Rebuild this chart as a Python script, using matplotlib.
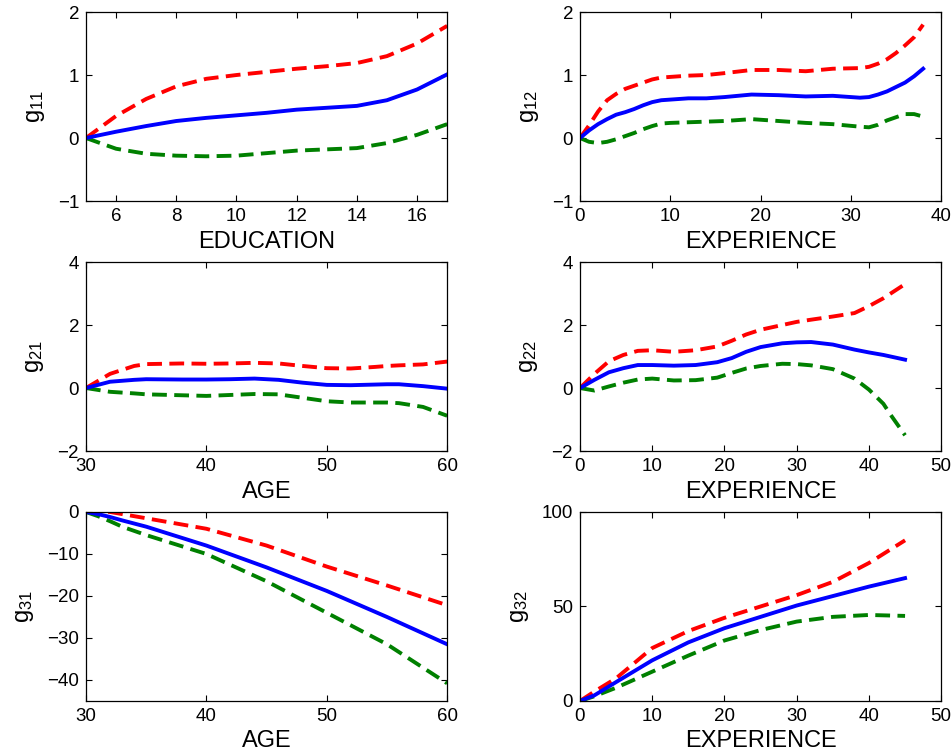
import numpy as np
import matplotlib
matplotlib.use("Agg")
import matplotlib.pyplot as plt

plt.rcParams['font.family'] = ['Liberation Sans', 'DejaVu Sans']
plt.rcParams['mathtext.fontset'] = 'custom'
plt.rcParams['mathtext.rm'] = 'Liberation Sans'
plt.rcParams['mathtext.default'] = 'regular'

# --- g11: EDUCATION ---
edu_x = [5, 6, 7, 8, 9, 10, 11, 12, 13, 14, 15, 16, 17]
g11_est = [0, 0.1, 0.19, 0.27, 0.32, 0.36, 0.40, 0.45, 0.48, 0.51, 0.60, 0.77, 1.01]
g11_up = [0, 0.35, 0.62, 0.82, 0.94, 1.0, 1.05, 1.1, 1.14, 1.19, 1.3, 1.5, 1.78]
g11_lo = [0, -0.17, -0.25, -0.28, -0.29, -0.28, -0.24, -0.2, -0.18, -0.16, -0.08, 0.05, 0.22]

# --- g12: EXPERIENCE ---
exp12_x = [0, 1, 2, 3, 4, 5, 6, 7, 8, 9, 10, 12, 14, 16, 19, 22, 25, 28, 31, 32, 33, 34, 35, 36, 37, 38]
g12_est = [0, 0.12, 0.22, 0.30, 0.37, 0.41, 0.46, 0.52, 0.57, 0.60, 0.61, 0.63, 0.63, 0.65, 0.69,
           0.68, 0.66, 0.67, 0.64, 0.65, 0.69, 0.74, 0.81, 0.88, 0.98, 1.1]
g12_up = [0, 0.2, 0.42, 0.6, 0.7, 0.78, 0.83, 0.88, 0.93, 0.96, 0.97, 0.99, 1.0, 1.03, 1.08,
          1.08, 1.06, 1.1, 1.11, 1.13, 1.18, 1.25, 1.35, 1.47, 1.6, 1.8]
g12_lo = [0, -0.06, -0.08, -0.06, -0.02, 0.03, 0.08, 0.14, 0.19, 0.23, 0.24, 0.25, 0.26, 0.27, 0.3,
          0.27, 0.24, 0.22, 0.18, 0.17, 0.21, 0.28, 0.33, 0.38, 0.38, 0.34]

# --- g21: AGE ---
age21_x = [30, 32, 34, 35, 38, 40, 42, 44, 46, 48, 50, 52, 54, 55, 56, 58, 60]
g21_est = [0, 0.2, 0.26, 0.28, 0.27, 0.27, 0.28, 0.3, 0.26, 0.17, 0.1, 0.09, 0.11, 0.12, 0.12, 0.06, -0.02]
g21_up = [0, 0.45, 0.7, 0.76, 0.78, 0.77, 0.78, 0.8, 0.78, 0.7, 0.63, 0.62, 0.67, 0.7, 0.72, 0.75, 0.84]
g21_lo = [0, -0.12, -0.17, -0.2, -0.23, -0.25, -0.22, -0.19, -0.2, -0.31, -0.42, -0.46, -0.46, -0.46, -0.48, -0.6, -0.88]

# --- g22: EXPERIENCE ---
exp22_x = [0, 2, 4, 6, 8, 10, 13, 16, 19, 21, 23, 25, 28, 30, 32, 35, 38, 40, 42, 43, 45]
g22_est = [0, 0.26, 0.5, 0.63, 0.73, 0.73, 0.71, 0.73, 0.82, 0.95, 1.15, 1.3, 1.42, 1.45, 1.46,
           1.38, 1.22, 1.13, 1.05, 1.0, 0.9]
g22_up = [0, 0.45, 0.85, 1.05, 1.18, 1.2, 1.15, 1.2, 1.32, 1.5, 1.7, 1.85, 2.0, 2.1, 2.17,
          2.27, 2.38, 2.6, 2.85, 3.0, 3.3]
g22_lo = [0, -0.08, 0.05, 0.17, 0.27, 0.3, 0.24, 0.25, 0.33, 0.48, 0.62, 0.7, 0.77, 0.76, 0.72,
          0.6, 0.3, -0.05, -0.5, -0.85, -1.5]

# --- g31: AGE ---
age31_x = [30, 31, 32, 33, 35, 40, 45, 50, 55, 60]
g31_est = [0, -0.5, -1.2, -2.0, -3.5, -8.0, -13.2, -18.8, -25.0, -31.5]
g31_up = [0, 0, 0, -0.5, -1.5, -4.0, -8.0, -13.0, -17.5, -22.2]
g31_lo = [0, -1.0, -2.2, -3.5, -5.5, -10.0, -16.5, -24.0, -31.5, -40.8]

# --- g32: EXPERIENCE ---
exp32_x = [0, 2, 5, 10, 15, 20, 25, 30, 35, 40, 45]
g32_est = [0, 3, 10, 21.5, 31, 38.5, 44.5, 50.5, 55.5, 60.5, 65]
g32_up = [0, 5, 12, 28, 37, 44, 50, 56, 63, 73, 85]
g32_lo = [0, 2.5, 7, 15.5, 24, 32, 37.5, 42, 44.5, 45.5, 45]

panels = [
    (edu_x, g11_est, g11_up, g11_lo, 'g$_{11}$', 'EDUCATION', (5, 17), [6, 8, 10, 12, 14, 16], (-1, 2), [-1, 0, 1, 2]),
    (exp12_x, g12_est, g12_up, g12_lo, 'g$_{12}$', 'EXPERIENCE', (0, 40), [0, 10, 20, 30, 40], (-1, 2), [-1, 0, 1, 2]),
    (age21_x, g21_est, g21_up, g21_lo, 'g$_{21}$', 'AGE', (30, 60), [30, 40, 50, 60], (-2, 4), [-2, 0, 2, 4]),
    (exp22_x, g22_est, g22_up, g22_lo, 'g$_{22}$', 'EXPERIENCE', (0, 50), [0, 10, 20, 30, 40, 50], (-2, 4), [-2, 0, 2, 4]),
    (age31_x, g31_est, g31_up, g31_lo, 'g$_{31}$', 'AGE', (30, 60), [30, 40, 50, 60], (-45, 0), [-40, -30, -20, -10, 0]),
    (exp32_x, g32_est, g32_up, g32_lo, 'g$_{32}$', 'EXPERIENCE', (0, 50), [0, 10, 20, 30, 40, 50], (0, 100), [0, 50, 100]),
]

fig = plt.figure(figsize=(9.53, 7.56), dpi=100)
lefts = [0.0902, 0.6086]
bottoms = [0.7341, 0.4034, 0.0728]
w, h = 0.379, 0.25

lw = 2.8
dash = (3.8, 1.9)
for k, (x, est, up, lo, ylab, xlab, xl, xt, yl, yt) in enumerate(panels):
    ax = fig.add_axes([lefts[k % 2], bottoms[k // 2], w, h])
    ax.plot(x, up, color=(1, 0, 0), lw=lw, dashes=dash)
    ax.plot(x, lo, color=(0, 0.5, 0), lw=lw, dashes=dash)
    ax.plot(x, est, color=(0, 0, 1), lw=lw)
    ax.set_xlim(*xl)
    ax.set_ylim(*yl)
    ax.set_xticks(xt)
    ax.set_yticks(yt)
    ax.tick_params(direction='in', top=True, right=True, length=4, width=0.8,
                   labelsize=13.5, pad=5)
    for s in ax.spines.values():
        s.set_linewidth(0.9)
    ax.set_xlabel(xlab, fontsize=17, labelpad=4)
    ax.set_ylabel(ylab, fontsize=17, labelpad=8)

fig.savefig('out.png', dpi=100)
